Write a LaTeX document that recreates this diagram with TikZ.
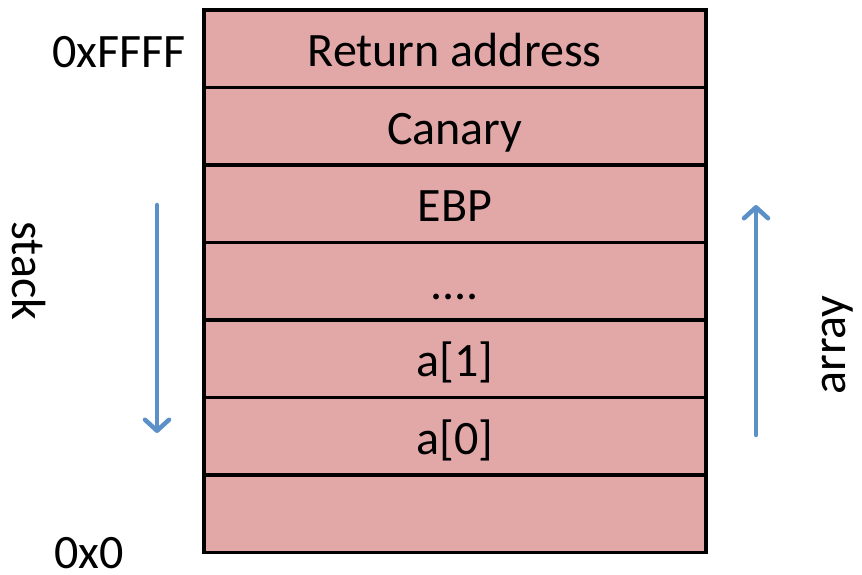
\documentclass[tikz,border=0pt]{standalone}
\usepackage{fontspec}
\setmainfont{Carlito}
\usetikzlibrary{arrows.meta}
\definecolor{cellfill}{RGB}{226,167,167}
\definecolor{flowblue}{RGB}{91,144,201}
\begin{document}
\begin{tikzpicture}[x=1pt,y=-1pt,
  big/.style={font=\fontsize{48}{56}\selectfont},
  cell/.style={big,draw=black,line width=3.5pt,fill=cellfill,minimum width=502pt,minimum height=77.5pt,inner sep=0pt,text height=36pt,text depth=0pt,anchor=north west},
  addr/.style={big,inner sep=0pt},
  side/.style={big,inner sep=0pt},
  flow/.style={draw=flowblue,line width=4.5pt,line cap=round,-{Straight Barb[length=11pt,width=24pt,line cap=round,line join=round]}}]
\useasboundingbox (0,0) rectangle (862,574);
% stack frame cells, top (high address) to bottom
\node[cell] (r0) at (202,8) {Return address};
\node[cell] (r1) at (202,85.5) {Canary};
\node[cell] (r2) at (202,163) {EBP};
\node[cell] (r3) at (202,240.5) {....};
\node[cell] (r4) at (202,318) {a[1]};
\node[cell] (r5) at (202,395.5) {a[0]};
\node[cell] (r6) at (202,473) {};
% address labels
\node[addr,anchor=east] (hi) at (186,52) {0xFFFF};
\node[addr,anchor=west] (lo) at (54,553) {0x0};
% growth directions
\coordinate (s1) at (157,205);
\coordinate (s2) at (157,433);
\coordinate (a1) at (756,435);
\coordinate (a2) at (756,205);
\draw[flow] (s1) -- (s2);
\draw[flow] (a1) -- (a2);
\node[side,rotate=-90] (stk) at (29,271) {stack};
\node[side,rotate=90] (arr) at (838,345) {array};
\end{tikzpicture}
\end{document}
